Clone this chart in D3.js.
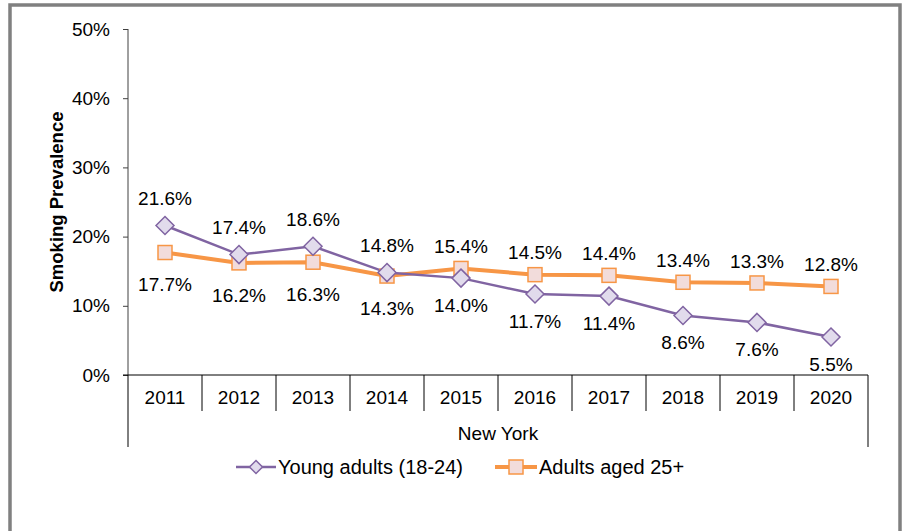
<!DOCTYPE html>
<html>
<head>
<meta charset="utf-8">
<script src="https://cdn.jsdelivr.net/npm/d3@7"></script>
<style>
  body { margin: 0; background: #fff; }
  text { font-family: "Liberation Sans", Arial, sans-serif; fill: #000; }
</style>
</head>
<body>
<svg id="chart" width="902" height="531"></svg>
<script>
// chart values
var years = ["2011", "2012", "2013", "2014", "2015", "2016", "2017", "2018", "2019", "2020"];
var youngAdults = [21.6, 17.4, 18.6, 14.8, 14.0, 11.7, 11.4, 8.6, 7.6, 5.5];
var adults25 = [17.7, 16.2, 16.3, 14.3, 15.4, 14.5, 14.4, 13.4, 13.3, 12.8];
var yTicks = [0, 10, 20, 30, 40, 50];
var groupLabel = "New York";
var seriesNames = ["Young adults (18-24)", "Adults aged 25+"];

var svg = d3.select('#chart');
var plotLeft = 128, plotRight = 868, plotTop = 29, plotBottom = 375;
var fs = "19px";

// outer frame
svg.append("rect")
  .attr("x", 10).attr("y", 5)
  .attr("width", 890).attr("height", 540)
  .attr("fill", "none").attr("stroke", "#808080").attr("stroke-width", 3.5);

var x = d3.scaleBand().domain(years).range([plotLeft, plotRight]);
var y = d3.scaleLinear().domain([0, 50]).range([plotBottom, plotTop]);

// y axis
var yAxis = svg.append("g")
  .attr("transform", "translate(" + plotLeft + ",0)")
  .call(d3.axisLeft(y).tickValues(yTicks).tickSize(5).tickPadding(13)
    .tickFormat(function (d) { return d + "%"; }));
yAxis.select(".domain").attr("stroke", "#404040").attr("d", "M0," + plotTop + "V" + plotBottom);
yAxis.selectAll(".tick line").attr("stroke", "#404040");
yAxis.selectAll("text").style("font-size", fs).attr("fill", "#000");

// x axis (category with grouping)
svg.append("line")
  .attr("x1", plotLeft - 5).attr("x2", plotRight).attr("y1", plotBottom).attr("y2", plotBottom)
  .attr("stroke", "#000").attr("stroke-width", 1);
var bounds = years.map(function (d) { return x(d); }).concat([plotRight]);
svg.selectAll(".xsep").data(bounds).enter().append("line")
  .attr("x1", function (d) { return d; }).attr("x2", function (d) { return d; })
  .attr("y1", plotBottom)
  .attr("y2", function (d, i) { return (i === 0 || i === bounds.length - 1) ? 447 : 411; })
  .attr("stroke", "#000").attr("stroke-width", 1);
svg.selectAll(".xlab").data(years).enter().append("text")
  .attr("x", function (d) { return x(d) + x.bandwidth() / 2; })
  .attr("y", 404)
  .attr("text-anchor", "middle")
  .style("font-size", fs)
  .text(function (d) { return d; });
svg.append("text")
  .attr("x", (plotLeft + plotRight) / 2).attr("y", 440)
  .attr("text-anchor", "middle").style("font-size", fs)
  .text(groupLabel);

// y axis title
svg.append("text")
  .attr("transform", "translate(63,202) rotate(-90)")
  .attr("text-anchor", "middle")
  .style("font-size", "18.5px").style("font-weight", "bold")
  .text("Smoking Prevalence");

var cx = function (d, i) { return x(years[i]) + x.bandwidth() / 2; };
var line = d3.line().x(cx).y(function (d) { return y(d); });

// adults 25+
svg.append("path").datum(adults25)
  .attr("d", line).attr("fill", "none")
  .attr("stroke", "#F79646").attr("stroke-width", 4);
// young adults
svg.append("path").datum(youngAdults)
  .attr("d", line).attr("fill", "none")
  .attr("stroke", "#8064A2").attr("stroke-width", 2.5);

svg.selectAll(".sq").data(adults25).enter().append("rect")
  .attr("x", function (d, i) { return cx(d, i) - 7; })
  .attr("y", function (d) { return y(d) - 7; })
  .attr("width", 14).attr("height", 14)
  .attr("fill", "#F2DCDB").attr("stroke", "#F79646").attr("stroke-width", 1.5);

var diamond = function (s) { return "M0," + (-s) + "L" + s + ",0L0," + s + "L" + (-s) + ",0Z"; };
svg.selectAll(".dm").data(youngAdults).enter().append("path")
  .attr("transform", function (d, i) { return "translate(" + cx(d, i) + "," + y(d) + ")"; })
  .attr("d", diamond(9))
  .attr("fill", "#E1DBEC").attr("stroke", "#8064A2").attr("stroke-width", 1.5);

// data labels (young above for first four years, below after; adults opposite)
svg.selectAll(".ylab").data(youngAdults).enter().append("text")
  .attr("x", cx)
  .attr("y", function (d, i) { return y(d) + (i < 4 ? -27 : 27); })
  .attr("dy", "0.35em").attr("text-anchor", "middle")
  .style("font-size", fs)
  .text(function (d) { return d.toFixed(1) + "%"; });
svg.selectAll(".alab").data(adults25).enter().append("text")
  .attr("x", cx)
  .attr("y", function (d, i) { return y(d) + (i < 4 ? 32 : -22); })
  .attr("dy", "0.35em").attr("text-anchor", "middle")
  .style("font-size", fs)
  .text(function (d) { return d.toFixed(1) + "%"; });

// legend
var lg = svg.append("g").attr("transform", "translate(0,467)");
lg.append("line").attr("x1", 236).attr("x2", 276).attr("stroke", "#8064A2").attr("stroke-width", 2.5);
lg.append("path").attr("transform", "translate(256,0)").attr("d", diamond(6.5))
  .attr("fill", "#E1DBEC").attr("stroke", "#8064A2").attr("stroke-width", 1.5);
lg.append("text").attr("x", 278).attr("dy", "0.35em").style("font-size", "20px").text(seriesNames[0]);
lg.append("line").attr("x1", 495).attr("x2", 537).attr("stroke", "#F79646").attr("stroke-width", 4);
lg.append("rect").attr("x", 509).attr("y", -7).attr("width", 14).attr("height", 14)
  .attr("fill", "#F2DCDB").attr("stroke", "#F79646").attr("stroke-width", 1.5);
lg.append("text").attr("x", 539).attr("dy", "0.35em").style("font-size", "20px").text(seriesNames[1]);
</script>
</body>
</html>
